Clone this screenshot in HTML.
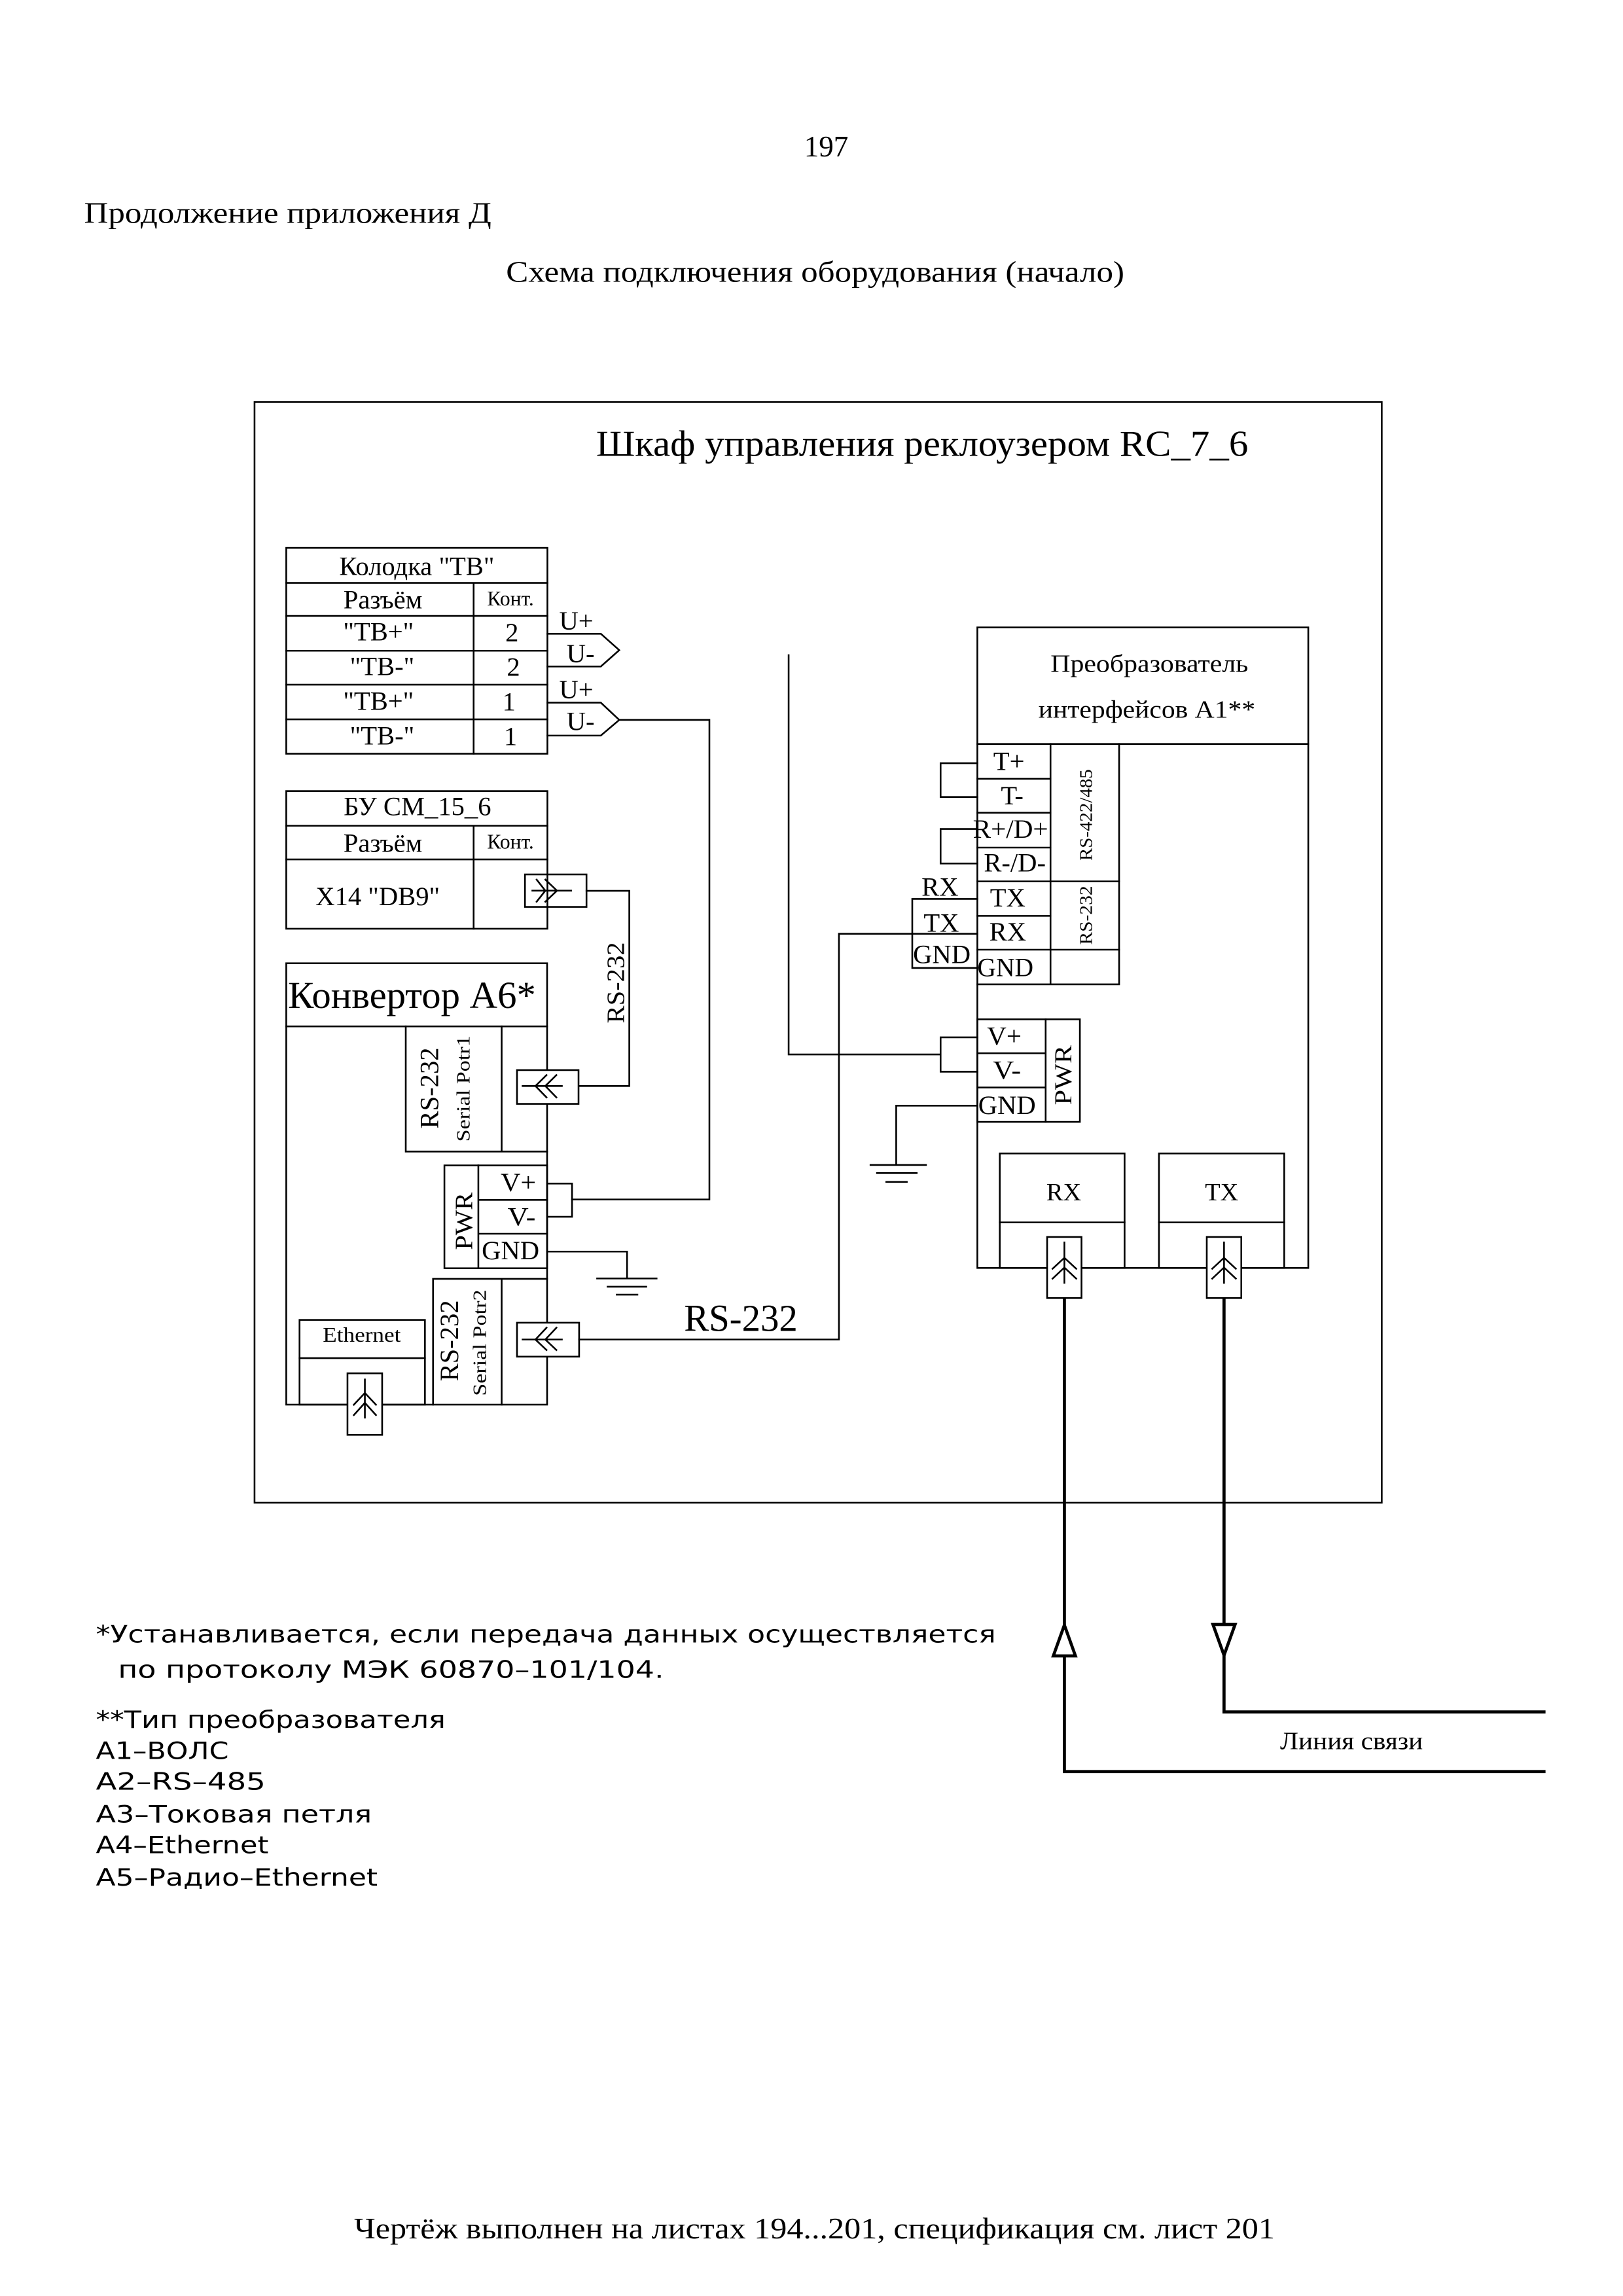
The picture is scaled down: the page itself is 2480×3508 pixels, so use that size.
<!DOCTYPE html>
<html><head><meta charset="utf-8"><style>html,body{margin:0;padding:0;background:#fff}svg{display:block}</style></head>
<body>
<svg xmlns="http://www.w3.org/2000/svg" width="2480" height="3508" viewBox="0 0 1100 1556">
<rect width="1100" height="1556" fill="#fff"/>
<g font-family="'Liberation Serif','Noto Serif CJK SC',serif" fill="#000">
<text x="560" y="106" font-size="20" text-anchor="middle">197</text>
<text x="57" y="151" font-size="20" textLength="276" lengthAdjust="spacingAndGlyphs">Продолжение приложения Д</text>
<text x="343" y="191" font-size="20" textLength="419" lengthAdjust="spacingAndGlyphs">Схема подключения оборудования (начало)</text>
<text x="404" y="309" font-size="25" textLength="442" lengthAdjust="spacingAndGlyphs">Шкаф управления реклоузером RC_7_6</text>
<text x="240" y="1517" font-size="20" textLength="624" lengthAdjust="spacingAndGlyphs">Чертёж выполнен на листах 194...201, спецификация см. лист 201</text>
</g>

<g fill="none" stroke="#000" stroke-width="1.15" stroke-linecap="square">
<rect x="172.5" y="272.5" width="764" height="745.9"/>
<rect x="194" y="371.3" width="177" height="139.5"/>
<path d="M194 395H371M194 417.4H371M194 441H371M194 464H371M194 487.5H371M321 395V510.8"/>
<path d="M371 429.5H407.2L419.7 440.6L407.2 451.7H371"/>
<path d="M371 476.2H407.2L419.7 487.9L407.2 498.5H371"/>
<path d="M419.7 487.9H480.8V812.9H387.7"/>
<path d="M371 802.1H387.7V824.6H371"/>
<rect x="194" y="536.1" width="177" height="93.3"/>
<path d="M194 559.6H371M194 582.4H371M321 559.6V629.4"/>
<rect x="355.8" y="592.6" width="41.7" height="22"/>
<path d="M360.8 603.6H387.1M363.7 596.1L369.6 603.6L363.7 611.1M369.6 596.1L377.5 603.6L369.6 611.1"/>
<path d="M397.5 603.7H426.5V736H392.1"/>
<rect x="194" y="652.8" width="176.8" height="299.1"/>
<path d="M194 695.6H370.8"/>
<path d="M275 695.6V780.4H370.8M340 695.6V780.4"/>
<rect x="301.2" y="789.8" width="69.6" height="69.7"/>
<path d="M324.2 789.8V859.5M324.2 813.2H370.8M324.2 836.1H370.8"/>
<path d="M293.5 951.9V866.7H370.8M340 866.7V951.9"/>
<rect x="203" y="894.5" width="85" height="57.4"/>
<path d="M203 920.4H288"/>
<path d="M370.8 848.2H425V866.4M404.7 866.4H445M411.8 872H438M418 877.4H432"/>
<rect x="350.4" y="725.2" width="41.7" height="22.9" fill="#fff"/>
<path d="M354.2 736H380.8M370.4 728.6L362.9 736L370.4 743.7M377.1 728.6L369.6 736L377.1 743.7"/>
<rect x="350.4" y="896.4" width="42.1" height="23" fill="#fff"/>
<path d="M354.2 907.8H380.8M370.4 899.8L362.9 907.8L370.4 914.9M377.1 899.8L369.6 907.8L377.1 914.9"/>
<path d="M392.5 907.8H568.6V632.8H618.3"/>
<rect x="235.5" y="930.7" width="23.5" height="41.7" fill="#fff"/>
<path d="M247.3 934.9V960.7M239.8 952L247.3 944L254.8 952M239.8 959L247.3 950.7L254.8 959"/>
<rect x="662.4" y="425.2" width="224.3" height="434.1"/>
<path d="M662.4 504.2H886.7"/>
<path d="M712 504.2V667.1M758.5 504.2V667.1H662.4"/>
<path d="M662.4 527.8H712M662.4 550.8H712M662.4 574.4H712M662.4 597.3H758.5M662.4 620.7H712M662.4 643.6H758.5"/>
<path d="M662.4 517.2H637.5V540.1H662.4M662.4 561.8H637.5V585.2H662.4"/>
<path d="M618.3 609.2H662.4M618.3 632.8H662.4M618.3 656H662.4M618.3 609.2V656"/>
<rect x="662.4" y="690.8" width="69.5" height="69.5"/>
<path d="M708.7 690.8V760.3M662.4 713.8H708.7M662.4 737H708.7"/>
<path d="M662.4 703H637.5V726.3H662.4M637.5 714.6H534.5V444"/>
<path d="M662.4 749.3H607.4V789.5M590 789.5H627.6M594.4 795H621.3M600.7 801H614.6"/>
<rect x="677.6" y="781.7" width="84.6" height="77.6"/>
<path d="M677.6 828.4H762.2"/>
<rect x="785.5" y="781.7" width="84.9" height="77.6"/>
<path d="M785.5 828.4H870.4"/>
<rect x="709.7" y="838.3" width="23.3" height="41.4" fill="#fff"/>
<path d="M721.4 842V869.4M713.4 859.8L721.4 852.4L729.4 859.8M713.4 866.5L721.4 859L729.4 866.5"/>
<rect x="817.9" y="838.3" width="23.4" height="41.4" fill="#fff"/>
<path d="M829.6 842V869.4M821.6 859.8L829.6 852.4L837.6 859.8M821.6 866.5L829.6 859L837.6 866.5"/>
</g>
<g fill="none" stroke="#000" stroke-width="2.1">
<path d="M721.4 879.7V1200.6H1047.5"/>
<path d="M829.6 879.7V1160.2H1047.5"/>
<path d="M721.4 1101.3L728.9 1122.2H713.9Z" fill="#fff"/>
<path d="M829.6 1121.8L837.1 1100.9H822.1Z" fill="#fff"/>
</g>

<g font-family="'Liberation Serif','Noto Serif CJK SC',serif" fill="#000" font-size="18">
<text x="282.5" y="389.6" text-anchor="middle">Колодка "ТВ"</text>
<text x="259.5" y="412.2" text-anchor="middle">Разъём</text>
<text x="346" y="410.3" text-anchor="middle" font-size="14">Конт.</text>
<text x="256.5" y="434" text-anchor="middle">"ТВ+"</text>
<text x="259" y="457.5" text-anchor="middle">"ТВ-"</text>
<text x="256.5" y="481" text-anchor="middle">"ТВ+"</text>
<text x="259" y="504.5" text-anchor="middle">"ТВ-"</text>
<text x="347" y="434.6" text-anchor="middle">2</text>
<text x="348" y="458" text-anchor="middle">2</text>
<text x="345" y="481.5" text-anchor="middle">1</text>
<text x="346" y="505" text-anchor="middle">1</text>
<text x="379" y="426.8">U+</text>
<text x="384" y="448.9">U-</text>
<text x="379" y="473.2">U+</text>
<text x="384" y="494.7">U-</text>
<text x="282.9" y="552.4" text-anchor="middle">БУ СМ_15_6</text>
<text x="259.5" y="577.3" text-anchor="middle">Разъём</text>
<text x="346" y="575" text-anchor="middle" font-size="14">Конт.</text>
<text x="256" y="613.4" text-anchor="middle">X14 "DB9"</text>
<text x="195.2" y="683.1" font-size="26" textLength="168" lengthAdjust="spacingAndGlyphs">Конвертор А6*</text>
<text transform="translate(296.9,737.4) rotate(-90)" text-anchor="middle" font-size="18" textLength="55" lengthAdjust="spacingAndGlyphs">RS-232</text>
<text transform="translate(318.3,737.8) rotate(-90)" text-anchor="middle" font-size="12.5" textLength="72" lengthAdjust="spacingAndGlyphs">Serial Potr1</text>
<text transform="translate(310.5,908.6) rotate(-90)" text-anchor="middle" font-size="18" textLength="55" lengthAdjust="spacingAndGlyphs">RS-232</text>
<text transform="translate(329.4,910) rotate(-90)" text-anchor="middle" font-size="12.5" textLength="72" lengthAdjust="spacingAndGlyphs">Serial Potr2</text>
<text transform="translate(423,666) rotate(-90)" text-anchor="middle" font-size="17" textLength="55" lengthAdjust="spacingAndGlyphs">RS-232</text>
<text transform="translate(320,827.6) rotate(-90)" text-anchor="middle" font-size="17" textLength="39" lengthAdjust="spacingAndGlyphs">PWR</text>
<text x="339.3" y="807.3" textLength="24" lengthAdjust="spacingAndGlyphs">V+</text>
<text x="344" y="830.5" textLength="19" lengthAdjust="spacingAndGlyphs">V-</text>
<text x="326.5" y="853.5" textLength="39" lengthAdjust="spacingAndGlyphs">GND</text>
<text x="218.8" y="909.3" font-size="14" textLength="52.8" lengthAdjust="spacingAndGlyphs">Ethernet</text>
<text x="463.6" y="902" font-size="26" textLength="77" lengthAdjust="spacingAndGlyphs">RS-232</text>
<text x="779" y="455.4" text-anchor="middle" font-size="17" textLength="134" lengthAdjust="spacingAndGlyphs">Преобразователь</text>
<text x="777.3" y="486.4" text-anchor="middle" font-size="17" textLength="147" lengthAdjust="spacingAndGlyphs">интерфейсов А1**</text>
<text x="683.8" y="521.9" text-anchor="middle">T+</text>
<text x="686" y="545.2" text-anchor="middle">T-</text>
<text x="659.4" y="567.8" textLength="51" lengthAdjust="spacingAndGlyphs">R+/D+</text>
<text x="666.8" y="590.7" textLength="42" lengthAdjust="spacingAndGlyphs">R-/D-</text>
<text x="683" y="614.3" text-anchor="middle">TX</text>
<text x="683" y="637.5" text-anchor="middle">RX</text>
<text x="662.4" y="661.5" textLength="38" lengthAdjust="spacingAndGlyphs">GND</text>
<text transform="translate(740,552.3) rotate(-90)" text-anchor="middle" font-size="12" textLength="62" lengthAdjust="spacingAndGlyphs">RS-422/485</text>
<text transform="translate(740,620.3) rotate(-90)" text-anchor="middle" font-size="12" textLength="40" lengthAdjust="spacingAndGlyphs">RS-232</text>
<text x="624.6" y="606.9" textLength="25" lengthAdjust="spacingAndGlyphs">RX</text>
<text x="626" y="631.3" textLength="24" lengthAdjust="spacingAndGlyphs">TX</text>
<text x="618.8" y="652.8" textLength="39" lengthAdjust="spacingAndGlyphs">GND</text>
<text x="669" y="708.2" textLength="23.4" lengthAdjust="spacingAndGlyphs">V+</text>
<text x="673" y="731.3" textLength="19" lengthAdjust="spacingAndGlyphs">V-</text>
<text x="663" y="755" textLength="39" lengthAdjust="spacingAndGlyphs">GND</text>
<text transform="translate(726.2,728.6) rotate(-90)" text-anchor="middle" font-size="16.5" textLength="40.7" lengthAdjust="spacingAndGlyphs">PWR</text>
<text x="721" y="813.5" text-anchor="middle" font-size="17">RX</text>
<text x="828" y="813.5" text-anchor="middle" font-size="17">TX</text>
<text x="867.6" y="1185.5" font-size="17" textLength="96.8" lengthAdjust="spacingAndGlyphs">Линия связи</text>
</g>

<g font-family="'DejaVu Sans','Liberation Sans',sans-serif" fill="#000" font-size="16">
<text x="65" y="1113" textLength="610" lengthAdjust="spacingAndGlyphs">*Устанавливается, если передача данных осуществляется</text>
<text x="80" y="1137" textLength="370" lengthAdjust="spacingAndGlyphs">по протоколу МЭК 60870–101/104.</text>
<text x="65" y="1171" textLength="237" lengthAdjust="spacingAndGlyphs">**Тип преобразователя</text>
<text x="65" y="1192" textLength="90" lengthAdjust="spacingAndGlyphs">А1–ВОЛС</text>
<text x="65" y="1213" textLength="115" lengthAdjust="spacingAndGlyphs">А2–RS–485</text>
<text x="65" y="1235" textLength="187" lengthAdjust="spacingAndGlyphs">А3–Токовая петля</text>
<text x="65" y="1256" textLength="117" lengthAdjust="spacingAndGlyphs">А4–Ethernet</text>
<text x="65" y="1278" textLength="191" lengthAdjust="spacingAndGlyphs">А5–Радио–Ethernet</text>
</g>
</svg>
</body></html>
